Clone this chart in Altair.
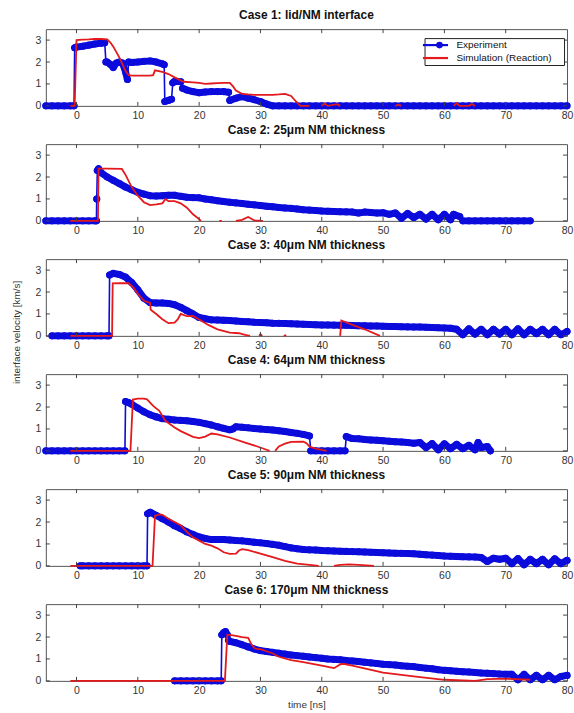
import altair as alt
import pandas as pd

FONT = "Liberation Sans"
BLUE = "#0b0bdc"
RED = "#e3191c"

titles = [
    "Case 1: lid/NM interface",
    "Case 2: 25μm NM thickness",
    "Case 3: 40μm NM thickness",
    "Case 4: 64μm NM thickness",
    "Case 5: 90μm NM thickness",
    "Case 6: 170μm NM thickness",
]
series_names = ["Experiment", "Simulation (Reaction)"]
x_ticks = [0, 10, 20, 30, 40, 50, 60, 70, 80]
y_ticks = [0, 1, 2, 3]

# Each series is a list of continuous pieces of (time [ns], velocity [km/s]) samples.
# ---------------- Case 1 ----------------
exp1 = [
    [(-5, 0), (-4, 0), (-3, 0), (-2, 0), (-1, 0), (-0.4, 0)],
    [(-0.3, 2.65), (0, 2.68), (1, 2.72), (2, 2.77), (3, 2.82), (4, 2.86), (4.6, 2.88)],
    [(4.8, 2.0), (5, 2.0), (5.5, 1.9), (6, 1.75), (6.5, 1.95), (7, 2.0), (7.5, 1.95), (8, 1.55), (8.3, 1.2)],
    [(8.5, 2.0), (9, 1.98), (10, 2.0), (11, 2.03), (12, 2.05), (13, 2.0), (14, 1.92), (14.3, 1.88)],
    [(14.4, 0.2), (15, 0.25), (15.5, 0.3)],
    [(15.7, 1.05), (16, 1.12), (17, 1.1)],
    [(17.3, 0.8), (18, 0.72), (19, 0.65), (20, 0.6), (21, 0.63), (22, 0.65), (23, 0.65), (24, 0.65),
     (24.8, 0.62)],
    [(25, 0.25), (26, 0.35), (27, 0.42), (28, 0.35), (29, 0.28), (30, 0.2), (31, 0.08), (32, 0), (33, 0),
     (34, 0), (35, 0), (36, 0), (37, 0), (38, 0), (39, 0), (40, 0), (41, 0), (42, 0), (43, 0), (44, 0),
     (45, 0), (46, 0), (47, 0), (48, 0), (49, 0), (50, 0), (51, 0), (52, 0), (53, 0), (54, 0), (55, 0),
     (56, 0), (57, 0), (58, 0), (59, 0), (60, 0), (61, 0), (62, 0), (63, 0), (64, 0), (65, 0), (66, 0),
     (67, 0), (68, 0), (69, 0), (70, 0), (71, 0), (72, 0), (73, 0), (74, 0), (75, 0), (76, 0), (77, 0),
     (78, 0), (79, 0), (80, 0)],
]
sim1 = [
    [(-1, 0), (-0.3, 0), (0, 3.0), (1, 3.02), (2, 3.03), (3, 3.05), (4, 3.05), (5, 3.03), (5.5, 2.9), (6, 2.7),
     (7, 2.2), (8, 1.6), (8.5, 1.4), (9, 1.38), (10, 1.38), (11, 1.38), (12, 1.38), (12.5, 1.4), (12.8, 1.62),
     (14, 1.55), (15, 1.45), (16, 1.3), (17.5, 1.1), (19, 1.07), (20, 1.05), (21, 1.0), (22, 1.02), (23, 1.04),
     (24, 1.05), (25, 1.05), (25.5, 0.9), (26, 0.7), (27, 0.55), (28, 0.52), (29, 0.5), (30, 0.5), (31, 0.5),
     (32, 0.5), (33, 0.52), (34, 0.55), (35, 0.45), (35.8, 0.2), (36.5, 0), (38, 0)],
    [(40, 0), (40.5, 0.1), (41, 0), (42.5, 0.08), (43, 0)],
    [(52, 0), (52.5, 0.05), (53, 0)],
    [(61.5, 0), (62, 0.12), (62.5, 0), (64, 0), (64.5, 0.08), (65, 0)],
]

# ---------------- Case 2 ----------------
exp2 = [
    [(-5, 0), (-4, 0), (-3, 0), (-2, 0), (-1, 0), (0, 0), (1, 0), (2, 0), (3, 0), (3.25, 0)],
    [(3.3, 1.0)],
    [(3.4, 2.3), (3.6, 2.38), (4, 2.2), (5, 2.0), (6, 1.85), (7, 1.7), (8, 1.54), (9, 1.42), (10, 1.3),
     (11, 1.22), (12, 1.15), (13, 1.13), (14, 1.15), (15, 1.17), (16, 1.17), (17, 1.12), (18, 1.08),
     (19, 1.06), (20, 1.05), (21, 1.0), (22, 0.96), (23, 0.92), (24, 0.88), (25, 0.85), (26, 0.82),
     (27, 0.79), (28, 0.76), (29, 0.73), (30, 0.7), (31, 0.67), (32, 0.64), (33, 0.61), (34, 0.59),
     (35, 0.57), (36, 0.54), (37, 0.51), (38, 0.49), (39, 0.47), (40, 0.45), (41, 0.44), (42, 0.43),
     (43, 0.42), (44, 0.41), (45, 0.4), (46, 0.36), (47, 0.4), (48, 0.38), (49, 0.36), (50, 0.37),
     (51, 0.3), (52, 0.36), (53, 0.12), (54, 0.34), (55, 0.15), (56, 0.3), (57, 0.08), (58, 0.3),
     (59, 0.05), (60, 0.3), (61, 0.05), (61.5, 0.3), (62.5, 0.2)],
    [(63, 0), (64, 0), (65, 0), (66, 0), (67, 0), (68, 0), (69, 0), (70, 0), (71, 0), (72, 0), (73, 0),
     (74, 0)],
]
sim2 = [
    [(-1, 0), (3.5, 0), (3.6, 2.38), (5, 2.38), (7.4, 2.37), (8, 2.1), (9, 1.54), (10, 1.15), (11, 0.85),
     (12, 0.72), (13, 0.75), (14, 0.8), (14.5, 1.0), (15, 0.9), (16, 0.9), (17, 0.8), (18, 0.6), (19, 0.3),
     (20, 0.08), (20.3, 0)],
    [(23.3, 0), (23.7, 0)],
    [(26, 0), (27, 0.05), (28, 0.18), (29, 0.02), (30.4, 0)],
]

# ---------------- Case 3 ----------------
exp3 = [
    [(-4, 0), (-3, 0), (-2, 0), (-1, 0), (0, 0), (1, 0), (2, 0), (3, 0), (4, 0), (5, 0), (5.3, 0)],
    [(5.4, 2.78), (6, 2.85), (7, 2.8), (8, 2.68), (9, 2.43), (10, 2.1), (11, 1.72), (12, 1.52), (13, 1.5),
     (14, 1.5), (15, 1.48), (16, 1.42), (17, 1.3), (18, 1.15), (19, 1.0), (20, 0.84), (21, 0.78),
     (22, 0.73), (23, 0.72), (24, 0.71), (25, 0.7), (26, 0.68), (27, 0.66), (28, 0.64), (29, 0.62),
     (30, 0.61), (31, 0.6), (32, 0.58), (33, 0.57), (34, 0.56), (35, 0.55), (36, 0.54), (37, 0.53),
     (38, 0.52), (39, 0.51), (40, 0.5), (41, 0.5), (42, 0.49), (43, 0.48), (44, 0.48), (45, 0.47),
     (46, 0.46), (47, 0.46), (48, 0.45), (49, 0.45), (50, 0.44), (51, 0.43), (52, 0.43), (53, 0.42),
     (54, 0.41), (55, 0.4), (56, 0.4), (57, 0.39), (58, 0.38), (59, 0.37), (60, 0.36), (61, 0.35),
     (62, 0.3), (63, 0.05), (64, 0.32), (65, 0.08), (66, 0.3), (67, 0.05), (68, 0.3), (69, 0.08),
     (70, 0.3), (71, 0.05), (72, 0.32), (73, 0.05), (74, 0.3), (75, 0.1), (76, 0.3), (77, 0.05),
     (78, 0.3), (79, 0.05), (80, 0.2)],
]
sim3 = [
    [(-1, 0), (5.8, 0), (5.9, 2.39), (7, 2.4), (8.5, 2.4), (9.3, 2.2), (10, 1.92), (11, 1.6), (12, 1.5),
     (12.1, 1.19), (13, 1.0), (14, 0.76), (15, 0.58), (16, 0.6), (16.5, 0.75), (17, 1.0), (18, 0.9),
     (19, 0.91), (20, 0.75), (21.5, 0.5), (23, 0.3), (25, 0.15), (26.5, 0.12), (27.5, 0.05), (28.3, 0)],
    [(29.8, 0), (30, 0.08), (30.3, 0)],
    [(33.8, 0), (34.2, 0.03)],
    [(43, 0), (43.2, 0.7), (45, 0.5), (47, 0.3), (49.5, 0)],
]

# ---------------- Case 4 ----------------
exp4 = [
    [(-5, 0), (-4, 0), (-3, 0), (-2, 0), (-1, 0), (0, 0), (1, 0), (2, 0), (3, 0), (4, 0), (5, 0), (6, 0),
     (7, 0), (7.9, 0)],
    [(8.0, 2.25), (8.5, 2.2), (9, 2.13), (10, 1.95), (11, 1.78), (12, 1.65), (13, 1.55), (14, 1.47),
     (15, 1.44), (16, 1.41), (17, 1.39), (18, 1.37), (19, 1.34), (20, 1.3), (21, 1.24), (22, 1.18),
     (23, 1.1), (24, 1.03), (25, 0.96), (25.5, 1.0), (26, 1.1), (27, 1.08), (28, 1.05), (29, 1.02),
     (30, 1.0), (31, 0.97), (32, 0.95), (33, 0.92), (34, 0.88), (35, 0.84), (36, 0.8), (37, 0.75),
     (38, 0.68)],
    [(38.2, 0), (39, 0), (40, 0), (41, 0), (42, 0), (43, 0), (43.8, 0)],
    [(44, 0.65), (45, 0.56), (46, 0.55), (47, 0.52), (48, 0.5), (49, 0.48), (50, 0.46), (51, 0.44),
     (52, 0.42), (53, 0.4), (54, 0.38), (55, 0.35), (56, 0.38), (57, 0.15), (58, 0.33), (59, 0.05),
     (60, 0.32), (61, 0.1), (62, 0.3), (63, 0.1), (64, 0.25), (65, 0.05), (65.5, 0.38), (66, 0.15),
     (67, 0.2), (67.5, 0)],
]
sim4 = [
    [(-1, 0), (8.8, 0), (9.2, 2.34), (10, 2.38), (11, 2.38), (11.5, 2.35), (12.5, 2.05), (13.5, 1.83),
     (14.5, 1.37), (16, 1.07), (17, 0.9), (19, 0.64), (20, 0.58), (21, 0.65), (22, 0.79), (23, 0.75),
     (25, 0.61), (27.5, 0.38), (29.5, 0.2), (31, 0.05), (31.5, 0)],
    [(32.4, 0), (33, 0.2), (34, 0.33), (35, 0.41), (37, 0.42), (37.5, 0.35), (38, 0.2), (39, 0.1),
     (40, 0.05), (40.8, 0)],
]

# ---------------- Case 5 ----------------
exp5 = [
    [(0.6, 0), (1, 0), (2, 0), (3, 0), (4, 0), (5, 0), (6, 0), (7, 0), (8, 0), (9, 0), (10, 0), (11, 0),
     (11.5, 0)],
    [(11.6, 2.38), (12, 2.45), (13, 2.3), (14, 2.15), (15, 2.0), (16, 1.83), (17, 1.7),
     (18, 1.55), (19, 1.43), (20, 1.32), (21, 1.25), (22, 1.2), (23, 1.2), (24, 1.2), (25, 1.18),
     (26, 1.16), (27, 1.14), (28, 1.11), (29, 1.08), (30, 1.05), (31, 1.02), (32, 0.98), (33, 0.94),
     (34, 0.88), (35, 0.82), (36, 0.78), (37, 0.75), (38, 0.73), (39, 0.72), (40, 0.7), (41, 0.69),
     (42, 0.68), (43, 0.67), (44, 0.66), (45, 0.65), (46, 0.64), (47, 0.63), (48, 0.62), (49, 0.61),
     (50, 0.6), (51, 0.59), (52, 0.58), (53, 0.57), (54, 0.56), (55, 0.55), (56, 0.53), (57, 0.51),
     (58, 0.49), (59, 0.47), (60, 0.45), (61, 0.44), (62, 0.43), (63, 0.42), (64, 0.41), (65, 0.4),
     (66, 0.38), (67, 0.2), (68, 0.35), (69, 0.3), (70, 0.35), (71, 0.1), (72, 0.33), (73, 0.05),
     (74, 0.3), (75, 0.1), (76, 0.3), (77, 0.05), (78, 0.32), (79, 0.1), (80, 0.25)],
]
sim5 = [
    [(-1, 0), (12.4, 0), (12.8, 2.28), (13.5, 2.35), (14, 2.33), (15, 2.15), (16, 2.0), (17, 1.85),
     (18, 1.55), (19, 1.3), (20, 1.15), (21, 1.0), (22, 0.92), (23, 0.8), (24, 0.62), (25, 0.55),
     (26, 0.56), (26.5, 0.7), (27, 0.76), (28, 0.72), (30, 0.56), (32, 0.4), (34, 0.23), (36, 0.1),
     (38, 0.05), (39.5, 0)],
    [(42, 0), (43, 0.05), (44.5, 0.07), (46, 0.05), (48.5, 0)],
]

# ---------------- Case 6 ----------------
exp6 = [
    [(16, 0), (17, 0), (18, 0), (19, 0), (20, 0), (21, 0), (22, 0), (23, 0), (23.6, 0)],
    [(23.7, 2.1), (24, 2.2), (24.3, 2.25), (24.6, 2.1)],
    [(24.8, 1.85), (25, 1.8), (26, 1.74), (27, 1.65), (28, 1.55),
     (29, 1.45), (30, 1.38), (31, 1.34), (32, 1.3), (33, 1.26), (34, 1.22), (35, 1.18), (36, 1.15),
     (37, 1.12), (38, 1.09), (39, 1.06), (40, 1.03), (41, 1.0), (42, 0.98), (43, 0.96), (44, 0.93),
     (45, 0.91), (46, 0.88), (47, 0.85), (48, 0.82), (49, 0.79), (50, 0.76), (51, 0.74), (52, 0.72),
     (53, 0.69), (54, 0.67), (55, 0.65), (56, 0.61), (57, 0.58), (58, 0.55), (59, 0.51), (60, 0.48),
     (61, 0.46), (62, 0.44), (63, 0.42), (64, 0.4), (65, 0.38), (66, 0.36), (67, 0.35), (68, 0.33),
     (69, 0.31), (70, 0.3), (71, 0.3), (72, 0.05), (73, 0.3), (74, 0.05), (75, 0.25), (76, 0.05),
     (77, 0.25), (78, 0.05), (79, 0.2), (80, 0.25)],
]
sim6 = [
    [(-1, 0), (24.2, 0), (24.6, 2.1), (25, 2.1), (26, 2.05), (27, 2.0), (28, 1.96), (28.5, 1.68), (29, 1.5),
     (29.5, 1.45), (30, 1.45), (31, 1.35), (32, 1.25), (33, 1.1), (35, 0.95), (37, 0.85), (40, 0.7),
     (42, 0.58), (43, 0.75), (43.5, 0.78), (45, 0.7), (50, 0.38), (55, 0.2), (60, 0.05), (65, 0),
     (67, 0.08), (70, 0.1), (74, 0.05)],
]

experiments = [exp1, exp2, exp3, exp4, exp5, exp6]
simulations = [sim1, sim2, sim3, sim4, sim5, sim6]

X_DOMAIN = [-5, 80]
Y_DOMAIN = [0, 3.5]
W, H = 523, 77

color_legend = alt.Legend(
    title="\u00a0", titleOrient="right", titlePadding=10, titleFontSize=4,
    orient="none", legendX=380, legendY=9,
    symbolType="M-3.6,0H3.6", symbolSize=49, symbolStrokeWidth=2.2,
    labelFont=FONT, labelFontSize=10, labelColor="#111", labelOffset=16,
    strokeColor="#222", fillColor="white", padding=2, rowPadding=3,
    symbolOffset=4, cornerRadius=0,
)
shape_legend = alt.Legend(
    title=None, orient="none", legendX=390, legendY=11,
    labelExpr="''", symbolSize=44, symbolFillColor=BLUE, symbolStrokeColor=BLUE,
    symbolStrokeWidth=0, symbolOpacity=1, padding=0, labelOffset=0, symbolOffset=0,
)
color_enc = alt.Color("series:N", scale=alt.Scale(domain=series_names, range=[BLUE, RED]), legend=color_legend)


def to_frame(pieces, name, prefix):
    frames = []
    for k, piece in enumerate(pieces):
        d = pd.DataFrame(piece, columns=["t", "v"])
        d["series"] = name
        d["seg"] = f"{prefix}{k}"
        frames.append(d)
    return pd.concat(frames, ignore_index=True)


def panel(i):
    exp_df = to_frame(experiments[i], series_names[0], "e")
    sim_df = to_frame(simulations[i], series_names[1], "s")

    x = alt.X("t:Q", scale=alt.Scale(domain=X_DOMAIN, nice=False, zero=False),
              axis=alt.Axis(values=x_ticks, title="time [ns]" if i == 5 else None, ticks=False, domain=False,
                            grid=False, labelPadding=5, labelOverlap=False, labelFlush=False, titlePadding=3))
    y = alt.Y("v:Q", scale=alt.Scale(domain=Y_DOMAIN, nice=False, zero=False),
              axis=alt.Axis(values=y_ticks, title="interface velocity [km/s]" if i == 2 else None,
                            ticks=False, domain=False, grid=False, labelPadding=5, labelOverlap=False,
                            labelBound=False, titleY=73, titlePadding=14))

    exp_thin = alt.Chart(exp_df).mark_line(strokeWidth=1.6, clip=False).encode(
        x=x, y=y, color=color_enc)
    exp_band = alt.Chart(exp_df).mark_line(strokeWidth=7, strokeCap="round", strokeJoin="round",
                                           clip=False, color=BLUE).encode(
        x=x, y=y, detail="seg:N")
    exp_pts = alt.Chart(exp_df).mark_point(filled=True, size=50, opacity=1, clip=False).encode(
        x=x, y=y, color=alt.value(BLUE),
        shape=alt.Shape("series:N", scale=alt.Scale(domain=[series_names[0]], range=["circle"]),
                        legend=shape_legend))
    sim_line = alt.Chart(sim_df).mark_line(strokeWidth=1.8, clip=False).encode(
        x=x, y=y, color=color_enc, detail="seg:N")

    xt = pd.DataFrame({"t": x_ticks[:-1]})
    yt = pd.DataFrame({"v": y_ticks})
    tick_style = dict(color="#444", strokeWidth=1)
    xt_bot = alt.Chart(xt).mark_rule(**tick_style).encode(x=x, y=alt.value(H), y2=alt.value(H - 4))
    xt_top = alt.Chart(xt).mark_rule(**tick_style).encode(x=x, y=alt.value(0), y2=alt.value(4))
    yt_l = alt.Chart(yt).mark_rule(**tick_style).encode(y=y, x=alt.value(0), x2=alt.value(4))
    yt_r = alt.Chart(yt).mark_rule(**tick_style).encode(y=y, x=alt.value(W), x2=alt.value(W - 4))

    return alt.layer(exp_thin, exp_band, exp_pts, sim_line, xt_bot, xt_top, yt_l, yt_r).properties(
        width=W, height=H,
        title=alt.TitleParams(titles[i], font=FONT, fontSize=12, fontWeight="bold", color="#111",
                              offset=7, anchor="middle", frame="group"),
    )


chart = alt.vconcat(*[panel(i) for i in range(6)], spacing=38.4, bounds="flush").properties(
    padding={"left": 10, "top": 7, "right": 0, "bottom": 0}
).configure_view(
    stroke="#555", strokeWidth=1
).configure_axis(
    labelFont=FONT, labelFontSize=10.5, labelColor="#333", titleFont=FONT, titleFontSize=10,
    titleColor="#333", titleFontWeight="normal", labelOverlap=False
).configure_legend(
    labelFont=FONT
)

chart.save("out.html", embed_options={"renderer": "svg", "actions": False})
